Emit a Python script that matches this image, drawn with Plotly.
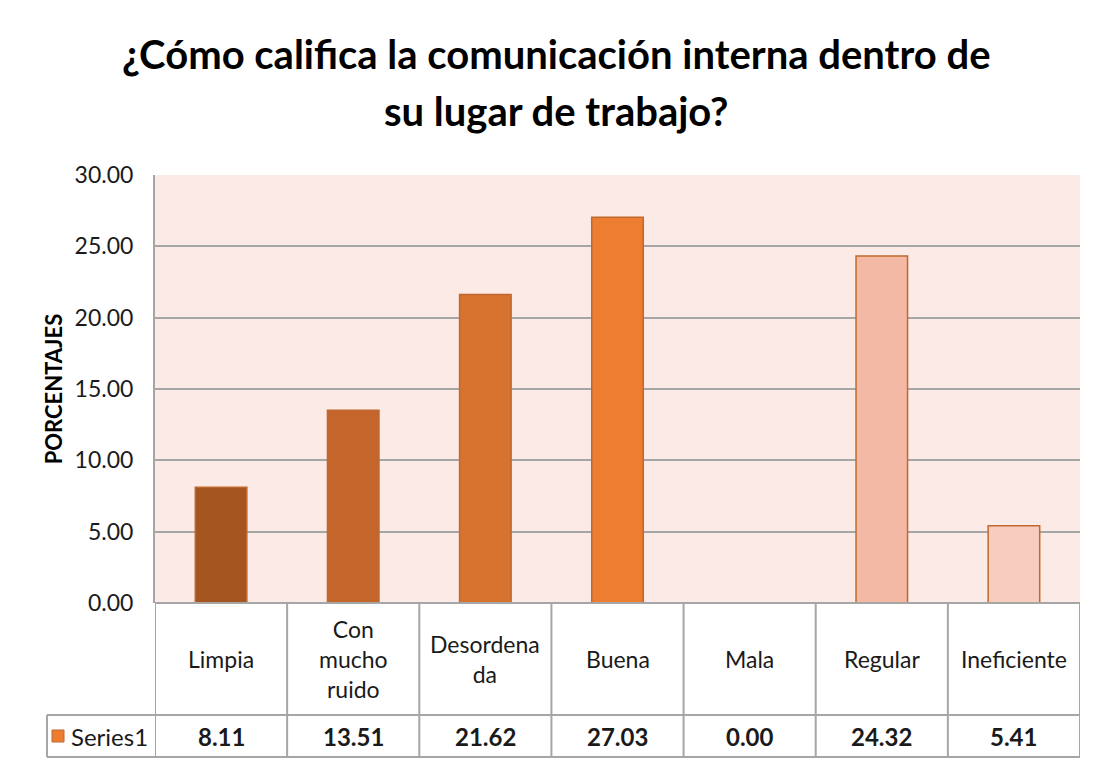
import plotly.graph_objects as go

categories = ["Limpia", "Con mucho ruido", "Desordenada", "Buena", "Mala", "Regular", "Ineficiente"]
category_labels = ["Limpia", "Con<br>mucho<br>ruido", "Desordena<br>da", "Buena", "Mala", "Regular", "Ineficiente"]
values = [8.11, 13.51, 21.62, 27.03, 0.00, 24.32, 5.41]
bar_colors = ["#A5551F", "#C4662B", "#D8722F", "#ED7D31", "#ED7D31", "#F4B9A4", "#F7CDBF"]
series_name = "Series1"
title_lines = ["¿Cómo califica la comunicación interna dentro de", "su lugar de trabajo?"]
y_title = "PORCENTAJES"
y_ticks = [0, 5, 10, 15, 20, 25, 30]

OFF = 8  # page body margin
W, H = 1106 - OFF, 773 - OFF
L, R, T, B = 155, 1080, 175, 603  # plot area in screen pixels
pw, ph = R - L, B - T

def px_x(px):
    return (px - L) / pw

def px_y(py):
    return (B - py) / ph

FONT = "Lato"
GRID = "#A6A6A6"
TXT = "#1A1A1A"

fig = go.Figure()
fig.add_trace(go.Bar(
    x=list(range(len(categories))), y=values, name=series_name,
    width=0.39,
    marker=dict(color=bar_colors, line=dict(color="#C0692E", width=1.5)),
    showlegend=False,
    hovertext=categories,
))

fig.update_layout(
    width=W, height=H,
    margin=dict(l=L - OFF, r=(W + OFF) - R, t=T - OFF, b=(H + OFF) - B, pad=0),
    paper_bgcolor="white",
    plot_bgcolor="#FBEAE5",
    font=dict(family=FONT, color=TXT, size=22),
    xaxis=dict(
        range=[-0.5, len(categories) - 0.5],
        showticklabels=False, showgrid=False, zeroline=False,
        showline=False, ticks="", fixedrange=True,
    ),
    yaxis=dict(
        range=[0, 30], tickvals=y_ticks,
        ticktext=[f"{v:.2f}" for v in y_ticks],
        showgrid=True, gridcolor=GRID, gridwidth=2,
        zeroline=False, showline=True, linecolor=GRID, linewidth=2,
        ticks="", ticklabelstandoff=15,
        tickfont=dict(size=23, color=TXT, family=FONT),
        title=dict(text=y_title, font=dict(size=22, family=FONT, color="black", weight="bold"), standoff=6),
    ),
)

# Title lines
for line, ypx in zip(title_lines, [54, 111]):
    fig.add_annotation(
        text=line, xref="paper", yref="paper", x=px_x(556), y=px_y(ypx),
        xanchor="center", yanchor="middle", showarrow=False,
        font=dict(size=40, family=FONT, color="black", weight="bold"),
    )

# Data table lines
line_style = dict(color=GRID, width=2)
row1_bot = px_y(715)
row2_bot = px_y(757)
fig.add_shape(type="line", xref="paper", yref="paper", x0=0, x1=1, y0=0, y1=0, line=line_style)
for yy in [row1_bot, row2_bot]:
    fig.add_shape(type="line", xref="paper", yref="paper", x0=px_x(47), x1=1, y0=yy, y1=yy, line=line_style)
for i in range(len(categories) + 1):
    fig.add_shape(type="line", xref="x", yref="paper", x0=i - 0.5, x1=i - 0.5, y0=0, y1=row2_bot, line=line_style)
fig.add_shape(type="line", xref="paper", yref="paper", x0=px_x(47), x1=px_x(47), y0=row1_bot, y1=row2_bot, line=line_style)

# Category labels and values
for i, (lab, v) in enumerate(zip(category_labels, values)):
    fig.add_annotation(text=lab, xref="x", yref="paper", x=i, y=px_y(659),
                       xanchor="center", yanchor="middle", showarrow=False,
                       font=dict(size=23, family=FONT, color=TXT))
    fig.add_annotation(text=f"{v:.2f}", xref="x", yref="paper", x=i, y=px_y(736),
                       xanchor="center", yanchor="middle", showarrow=False,
                       font=dict(size=24, family=FONT, color=TXT, weight="bold"))

# Legend key in table
fig.add_shape(type="rect", xref="paper", yref="paper", x0=px_x(52), x1=px_x(64),
              y0=px_y(742), y1=px_y(730), fillcolor="#ED7D31", line=dict(color="#C0692E", width=1))
fig.add_annotation(text=series_name, xref="paper", yref="paper", x=px_x(69), y=px_y(736),
                   xanchor="left", yanchor="middle", showarrow=False,
                   font=dict(size=24, family=FONT, color=TXT))

fig.write_html("out.html")
